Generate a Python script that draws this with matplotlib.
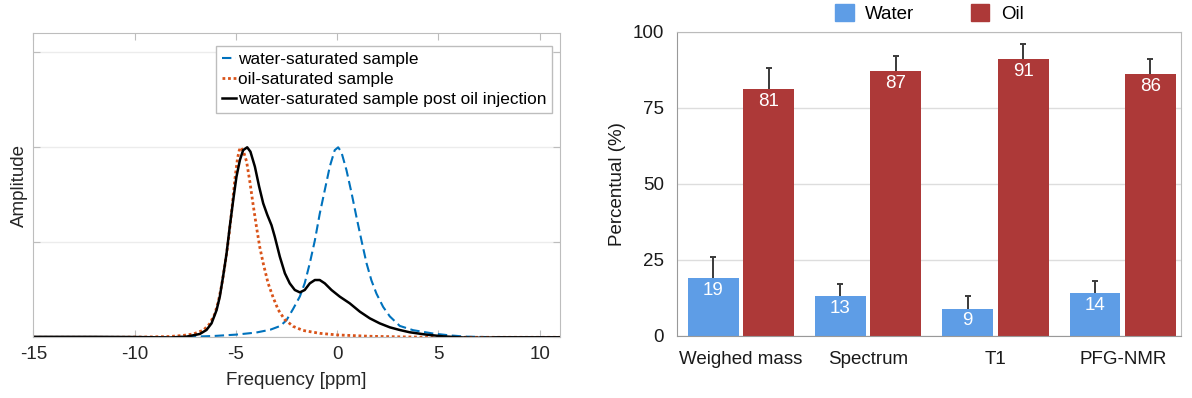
import matplotlib
matplotlib.use('Agg')
import matplotlib.pyplot as plt
from matplotlib.patches import Patch

plt.rcParams['font.family'] = ['Liberation Sans', 'DejaVu Sans']
plt.rcParams['axes.unicode_minus'] = False

# spectra (frequency in ppm, amplitude in arbitrary units)
water_x = [-15, -10, -8, -7, -6, -5, -4, -3.3, -2.8, -2.5, -2.17, -1.84, -1.6, -1.35,
           -1.1, -0.86, -0.61, -0.36, -0.12, 0.05, 0.21, 0.46, 0.71, 0.95, 1.2, 1.45,
           1.69, 1.94, 2.27, 2.6, 3.09, 3.75, 4.73, 5.56, 6.38, 8, 11]
water_y = [0, 0, 0.003, 0.007, 0.015, 0.028, 0.05, 0.08, 0.12, 0.18, 0.30, 0.43, 0.57, 0.78,
           1.02, 1.30, 1.55, 1.80, 1.97, 2.0, 1.95, 1.76, 1.52, 1.27, 1.02, 0.78,
           0.60, 0.46, 0.32, 0.22, 0.12, 0.075, 0.04, 0.02, 0.007, 0.0, 0.0]

oil_x = [-15, -11, -9.5, -8.3, -7.6, -7.1, -6.6, -6.3, -6.05, -5.87, -5.7, -5.54, -5.38,
         -5.21, -5.05, -4.92, -4.83, -4.75, -4.6, -4.47, -4.31, -4.15, -3.98, -3.82, -3.65,
         -3.41, -3.16, -2.91, -2.6, -2.17, -1.68, -0.86, 0.0, 1.6, 3.1, 4.7, 11]
oil_y = [0, 0, 0.003, 0.008, 0.02, 0.035, 0.075, 0.14, 0.24, 0.37, 0.55, 0.76, 1.0,
         1.32, 1.66, 1.88, 1.97, 2.0, 1.94, 1.85, 1.64, 1.40, 1.16, 0.95, 0.78,
         0.57, 0.42, 0.29, 0.19, 0.115, 0.072, 0.042, 0.025, 0.011, 0.005, 0.0, 0.0]

post_x = [-15, -12, -10, -9, -8.26, -7.43, -6.78, -6.45, -6.2, -5.95, -5.79, -5.63, -5.46,
          -5.3, -5.13, -4.97, -4.8, -4.64, -4.44, -4.28, -4.06, -3.85, -3.65, -3.45, -3.24,
          -3.08, -2.83, -2.58, -2.34, -2.09, -1.84, -1.6, -1.35, -1.1, -0.86, -0.61, -0.28,
          0.13, 0.62, 1.12, 1.61, 2.1, 2.6, 3.09, 3.58, 4.41, 5.23, 6.0, 6.8, 8.0, 11]
post_y = [0.005, 0.005, 0.003, 0.0, -0.002, 0.007, 0.035, 0.077, 0.147, 0.287, 0.43, 0.64, 0.88,
          1.165, 1.445, 1.69, 1.866, 1.97, 2.0, 1.954, 1.796, 1.586, 1.41, 1.29, 1.18,
          1.06, 0.849, 0.674, 0.568, 0.498, 0.473, 0.498, 0.568, 0.603, 0.603, 0.568, 0.498,
          0.428, 0.358, 0.27, 0.20, 0.147, 0.105, 0.077, 0.053, 0.028, 0.01, 0.0, -0.005, 0.0, 0.0]

# saturation percentages
methods = ['Weighed mass', 'Spectrum', 'T1', 'PFG-NMR']
water_pct = [19, 13, 9, 14]
oil_pct = [81, 87, 91, 86]
water_err = [7, 4, 4, 4]
oil_err = [7, 5, 5, 5]

fig = plt.figure(figsize=(11.92, 3.98), dpi=100)

# ---- left: spectra ----
ax1 = fig.add_axes([0.0279, 0.1525, 0.4419, 0.7638])
ax1.plot(water_x, water_y, color='#0072BD', lw=1.5, dashes=(4.5, 2.2),
         label='water-saturated sample')
ax1.plot(oil_x, oil_y, color='#D95319', lw=2.0, linestyle=(0, (1, 1)),
         label='oil-saturated sample')
ax1.plot(post_x, post_y, color='black', lw=1.8,
         label='water-saturated sample post oil injection')
ax1.set_xlim(-15, 11)
ax1.set_ylim(0, 3.2)
ax1.set_xticks([-15, -10, -5, 0, 5, 10])
ax1.set_yticks([0, 1, 2, 3])
ax1.set_yticklabels([])
ax1.grid(axis='y', color='#ececec', lw=1)
ax1.set_axisbelow(True)
for s in ax1.spines.values():
    s.set_color('#bdbdbd')
ax1.tick_params(direction='in', top=True, right=True, length=5, color='#bdbdbd',
                labelsize=13.5, labelcolor='#262626', pad=6)
ax1.set_xlabel('Frequency [ppm]', fontsize=13.5, color='#262626', labelpad=7)
ax1.set_ylabel('Amplitude', fontsize=13.5, color='#262626', labelpad=-2.5)
leg = ax1.legend(loc='upper right', bbox_to_anchor=(0.9854, 0.958), borderaxespad=0,
                 fontsize=12.4, handlelength=0.8, handletextpad=0.1, labelspacing=0.28,
                 borderpad=0.35, fancybox=False, framealpha=1)
leg.get_frame().set_edgecolor('#bdbdbd')
leg.get_frame().set_linewidth(1)

# ---- right: bar chart ----
ax2 = fig.add_axes([0.5682, 0.1558, 0.4228, 0.7646])
pos = list(range(len(methods)))
w = 0.40
off = 0.218
xw = [p - off for p in pos]
xo = [p + off for p in pos]
ax2.bar(xw, water_pct, width=w, color='#5E9DE6', zorder=2, label='Water')
ax2.bar(xo, oil_pct, width=w, color='#AD3938', zorder=2, label='Oil')
# one-sided error bars: stem from bar top, cap only at the upper end
for xs, vals, errs in [(xw, water_pct, water_err), (xo, oil_pct, oil_err)]:
    tops = [v + e for v, e in zip(vals, errs)]
    ax2.vlines(xs, vals, tops, color='#3a3a3a', lw=1.4, zorder=3)
    ax2.plot(xs, tops, linestyle='none', marker='_', markersize=5, mew=1.4,
             color='#3a3a3a', zorder=3)
    for x, v in zip(xs, vals):
        ax2.annotate(str(v), (x, v), xytext=(0, -8.6), textcoords='offset points',
                     ha='center', va='center', color='white', fontsize=13.5, zorder=4)
ax2.set_xlim(-0.5, 3.46)
ax2.set_ylim(0, 100)
ax2.set_yticks([0, 25, 50, 75, 100])
ax2.set_xticks(pos)
ax2.set_xticklabels(methods)
ax2.grid(axis='y', color='#dddddd', lw=1, zorder=0)
ax2.set_axisbelow(True)
for side in ['left', 'bottom']:
    ax2.spines[side].set_color('#999999')
for side in ['top', 'right']:
    ax2.spines[side].set_color('#bbbbbb')
ax2.tick_params(axis='y', length=0, pad=9.5, labelsize=13.5, labelcolor='#1a1a1a')
ax2.tick_params(axis='x', length=0, pad=11, labelsize=13.5, labelcolor='#1a1a1a')
ax2.set_ylabel('Percentual (%)', fontsize=13.5, color='#1a1a1a', labelpad=4.5)
handles = [Patch(color='#5E9DE6'), Patch(color='#AD3938')]
ax2.legend(handles, ['Water', 'Oil'], loc='center', bbox_to_anchor=(0.5, 1.06), ncol=2,
           frameon=False, fontsize=13.5, handlelength=1.0, handleheight=1.0,
           handletextpad=0.6, columnspacing=3.0, borderpad=0, borderaxespad=0)

fig.savefig('out.png', dpi=100)
